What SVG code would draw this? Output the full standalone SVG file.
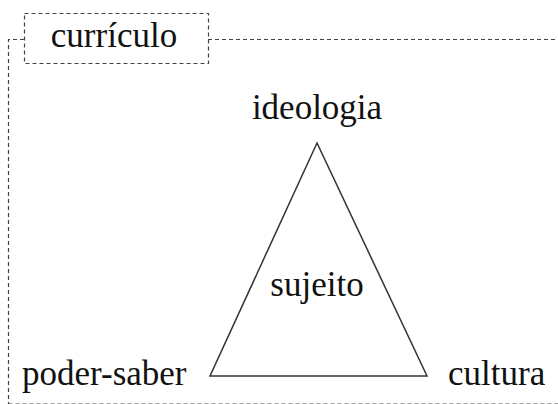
<svg xmlns="http://www.w3.org/2000/svg" width="558" height="404" viewBox="0 0 558 404">
<style>
.d{fill:none;stroke:#444;stroke-width:1.2;stroke-dasharray:4 3}
</style>
<rect width="558" height="404" fill="#fff"/>
<g id="connectors">
<path class="d" d="M24,39.5 H8.5 V404"/>
<path class="d" d="M208,39.5 H558"/>
<path class="d" d="M8.5,403.5 H558" stroke-opacity="0.5"/>
</g>
<g font-family="Liberation Serif, DejaVu Serif, serif" font-size="35" fill="#111">
<g id="curriculo">
<rect class="d" x="24.5" y="13.5" width="184" height="50"/>
<text x="114" y="47" text-anchor="middle">currículo</text>
</g>
<g id="triangle">
<polygon points="317,143 210,376 427,376" fill="none" stroke="#333" stroke-width="1.5"/>
</g>
<g id="ideologia"><text x="317" y="119" text-anchor="middle">ideologia</text></g>
<g id="sujeito"><text x="317" y="296" text-anchor="middle">sujeito</text></g>
<g id="poder-saber"><text x="22" y="385">poder-saber</text></g>
<g id="cultura"><text x="448" y="385">cultura</text></g>
</g>
</svg>
